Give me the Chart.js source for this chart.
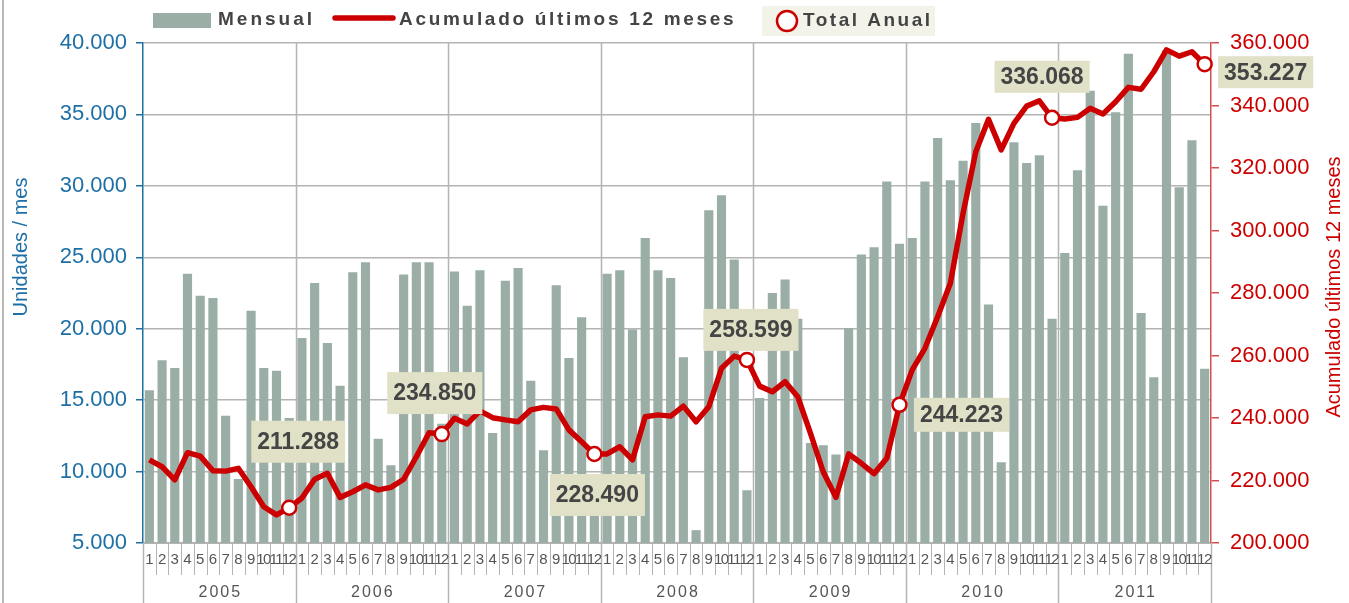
<!DOCTYPE html>
<html>
<head>
<meta charset="utf-8">
<title>Mensual y acumulado 12 meses</title>
<script src="https://cdn.jsdelivr.net/npm/chart.js@4/dist/chart.umd.min.js"></script>
<style>
  body { margin: 0; background: #fff; }
  #wrap { position: relative; width: 1349px; height: 603px; }
</style>
</head>
<body>
<div id="wrap"><canvas id="chart"></canvas></div>
<script>
const years = ["2005", "2006", "2007", "2008", "2009", "2010", "2011"];
const monthNums = ["1", "2", "3", "4", "5", "6", "7", "8", "9", "10", "11", "12"];

// unidades por mes
const mensual = [
  15700, 17800, 17250, 23850, 22300, 22150, 13900, 9480, 21250, 17250, 17050, 13750,
  19350, 23200, 19000, 16000, 23950, 24650, 12300, 10450, 23800, 24650, 24650, 13350,
  24000, 21600, 24100, 12700, 23350, 24250, 16350, 11500, 23050, 17950, 20800, 8800,
  23850, 24100, 19950, 26350, 24100, 23550, 18000, 5900, 28300, 29350, 24850, 8700,
  15150, 22500, 23450, 20700, 12000, 11850, 11200, 20050, 25200, 25700, 30300, 25950,
  26350, 30300, 33350, 30400, 31750, 34400, 21700, 10650, 33050, 31600, 32150, 20700,
  25300, 31100, 36650, 28600, 35150, 39250, 21100, 16600, 39500, 29900, 33200, 17200
];

// acumulado ultimos 12 meses
const acumulado = [
  226600, 224400, 220200, 228900, 227800, 223100, 223000, 223900, 218000, 211600, 209000, 211288,
  214400, 220400, 222300, 214600, 216400, 218600, 217000, 217800, 220400, 227600, 235300, 234850,
  239900, 238100, 242300, 240100, 239400, 238800, 242600, 243400, 242900, 236200, 232400, 228490,
  228500, 230800, 226600, 240400, 241000, 240600, 243800, 238800, 243600, 255900, 259800, 258599,
  250200, 248400, 251600, 246800, 235100, 222800, 214600, 228500, 225500, 222200, 227100, 244223,
  255400, 262300, 272400, 283100, 305500, 325200, 335600, 325800, 334300, 339800, 341500, 336068,
  335700, 336200, 339100, 337300, 341200, 345800, 345200, 350800, 357800, 355800, 357200, 353227
];

const totalAnual = [211288, 234850, 228490, 258599, 244223, 336068, 353227];

// where each "Total Anual" label box sits relative to its point
const labelBoxes = [
  { dx: 9, dy: -66, h: 42 },
  { dx: -7, dy: -41, h: 42 },
  { dx: 3, dy: 41, h: 42 },
  { dx: 4, dy: -30, h: 42 },
  { dx: 62, dy: 10, h: 34 },
  { dx: -10, dy: -41, h: 32 },
  { dx: 61, dy: 8, h: 32 }
];

const categories = [];
years.forEach((y) => monthNums.forEach((m) => categories.push(y + "-" + m)));

const totalPoints = categories.map((c, i) => (i % 12 === 11 ? totalAnual[Math.floor(i / 12)] : null));

const BAR = "#9aaea6";
const RED = "#cc0000";
const BLUE = "#1d6fa5";
const FONT = "'Liberation Sans', Arial, sans-serif";

const fmt = (v) => v.toLocaleString("de-DE");

function slotEdge(x, i) {
  // pixel boundary left of category i
  if (i <= 0) return x.left;
  if (i >= categories.length) return x.right;
  return (x.getPixelForValue(i - 1) + x.getPixelForValue(i)) / 2;
}

const decorPlugin = {
  id: "decor",
  beforeDatasetsDraw(chart) {
    const { ctx, chartArea, scales } = chart;
    const x = scales.x;
    ctx.save();
    ctx.strokeStyle = "#b4b4b4";
    ctx.lineWidth = 1.5;
    for (let k = 1; k < years.length; k++) {
      const px = Math.round(slotEdge(x, k * 12)) + 0.5;
      ctx.beginPath();
      ctx.moveTo(px, chartArea.top);
      ctx.lineTo(px, chartArea.bottom);
      ctx.stroke();
    }
    ctx.restore();
  },
  afterDraw(chart) {
    const { ctx, chartArea, scales } = chart;
    const x = scales.x;
    ctx.save();

    // outer frame line on the left
    ctx.strokeStyle = "#b8b8b8";
    ctx.lineWidth = 2;
    ctx.beginPath();
    ctx.moveTo(3, 0);
    ctx.lineTo(3, 603);
    ctx.stroke();

    // bottom axis line, month separators and year separators
    ctx.strokeStyle = "#b4b4b4";
    ctx.lineWidth = 1;
    ctx.beginPath();
    ctx.moveTo(chartArea.left, chartArea.bottom + 0.5);
    ctx.lineTo(chartArea.right, chartArea.bottom + 0.5);
    ctx.stroke();
    for (let i = 0; i <= categories.length; i++) {
      const px = Math.round(slotEdge(x, i)) + 0.5;
      const yearEdge = i % 12 === 0;
      ctx.lineWidth = yearEdge ? 1.5 : 1;
      ctx.beginPath();
      ctx.moveTo(px, chartArea.bottom);
      ctx.lineTo(px, yearEdge ? 603 : chartArea.bottom + 32);
      ctx.stroke();
    }

    ctx.fillStyle = "#555";
    ctx.textAlign = "center";
    ctx.textBaseline = "middle";
    ctx.font = "15px " + FONT;
    categories.forEach((c, i) => {
      const m = monthNums[i % 12];
      ctx.letterSpacing = m.length > 1 ? "-1.5px" : "0px";
      ctx.fillText(m, x.getPixelForValue(i) + (m.length > 1 ? -0.7 : 0), chartArea.bottom + 17);
    });
    ctx.font = "16px " + FONT;
    ctx.letterSpacing = "2px";
    years.forEach((y, k) => {
      const cx = (slotEdge(x, k * 12) + slotEdge(x, k * 12 + 12)) / 2;
      ctx.fillText(y, cx + 1, 593);
    });
    ctx.letterSpacing = "0px";

    // Total Anual label boxes
    const meta = chart.getDatasetMeta(2);
    ctx.font = "bold 23px " + FONT;
    totalAnual.forEach((v, k) => {
      const pt = meta.data[k * 12 + 11];
      const b = labelBoxes[k];
      const txt = fmt(v);
      const w = ctx.measureText(txt).width + 12;
      const cx = pt.x + b.dx;
      const cy = pt.y + b.dy;
      ctx.fillStyle = "#e1e1c7";
      ctx.fillRect(cx - w / 2, cy - b.h / 2, w, b.h);
      ctx.fillStyle = "#454545";
      ctx.fillText(txt, cx, cy + 1);
    });

    // axis titles
    ctx.font = "20px " + FONT;
    ctx.fillStyle = BLUE;
    ctx.save();
    ctx.translate(21, 247);
    ctx.rotate(-Math.PI / 2);
    ctx.fillText("Unidades / mes", 0, 0);
    ctx.restore();
    ctx.fillStyle = RED;
    ctx.save();
    ctx.translate(1334, 287);
    ctx.rotate(-Math.PI / 2);
    ctx.fillText("Acumulado últimos 12 meses", 0, 0);
    ctx.restore();

    // legend
    ctx.textAlign = "left";
    ctx.font = "bold 19px " + FONT;
    ctx.fillStyle = BAR;
    ctx.fillRect(153, 13, 58, 15);
    ctx.fillStyle = "#444";
    ctx.letterSpacing = "3px";
    ctx.fillText("Mensual", 218, 20);
    ctx.strokeStyle = RED;
    ctx.lineWidth = 5.5;
    ctx.lineCap = "round";
    ctx.beginPath();
    ctx.moveTo(335, 18);
    ctx.lineTo(393, 18);
    ctx.stroke();
    ctx.letterSpacing = "2.7px";
    ctx.fillText("Acumulado últimos 12 meses", 399, 20);
    ctx.fillStyle = "#f3f3ea";
    ctx.fillRect(762, 6, 173, 30);
    ctx.strokeStyle = RED;
    ctx.lineWidth = 2.5;
    ctx.fillStyle = "#fff";
    ctx.beginPath();
    ctx.arc(787, 21, 10, 0, Math.PI * 2);
    ctx.fill();
    ctx.stroke();
    ctx.fillStyle = "#444";
    ctx.letterSpacing = "2.5px";
    ctx.fillText("Total Anual", 803, 21);
    ctx.restore();
  }
};

new Chart(document.getElementById("chart"), {
  type: "bar",
  data: {
    labels: categories,
    datasets: [
      {
        type: "bar",
        label: "Mensual",
        data: mensual,
        yAxisID: "y",
        backgroundColor: BAR,
        barPercentage: 0.72,
        categoryPercentage: 1,
        order: 3
      },
      {
        type: "line",
        label: "Acumulado últimos 12 meses",
        data: acumulado,
        yAxisID: "y2",
        borderColor: RED,
        borderWidth: 5.5,
        borderJoinStyle: "round",
        pointRadius: 0,
        tension: 0,
        order: 2
      },
      {
        type: "line",
        label: "Total Anual",
        data: totalPoints,
        yAxisID: "y2",
        showLine: false,
        pointRadius: 7,
        pointBorderWidth: 2.5,
        pointBackgroundColor: "#fff",
        pointBorderColor: RED,
        order: 1
      }
    ]
  },
  options: {
    responsive: true,
    maintainAspectRatio: false,
    animation: false,
    layout: { padding: { top: 43, left: 0, right: 0, bottom: 0 } },
    plugins: {
      legend: { display: false },
      tooltip: { enabled: false }
    },
    scales: {
      x: {
        grid: { display: false },
        border: { display: false },
        ticks: { display: false },
        afterFit: (s) => { s.height = 60; }
      },
      y: {
        position: "left",
        min: 5000,
        max: 40000,
        ticks: {
          stepSize: 5000,
          color: BLUE,
          padding: 9,
          font: { family: FONT, size: 22 },
          callback: (v) => fmt(v)
        },
        grid: { color: "#b4b4b4", lineWidth: 1.5, tickColor: BLUE, tickLength: 7 },
        border: { color: BLUE, width: 1.5 },
        afterFit: (s) => { s.width = 143; }
      },
      y2: {
        position: "right",
        min: 200000,
        max: 360000,
        ticks: {
          stepSize: 20000,
          color: RED,
          padding: 11,
          font: { family: FONT, size: 22 },
          callback: (v) => fmt(v)
        },
        grid: { drawOnChartArea: false, tickColor: "#d45050", tickLength: 8, lineWidth: 1.5 },
        border: { color: "#d45050", width: 1.5 },
        afterFit: (s) => { s.width = 138; }
      }
    }
  },
  plugins: [decorPlugin]
});
</script>
</body>
</html>
